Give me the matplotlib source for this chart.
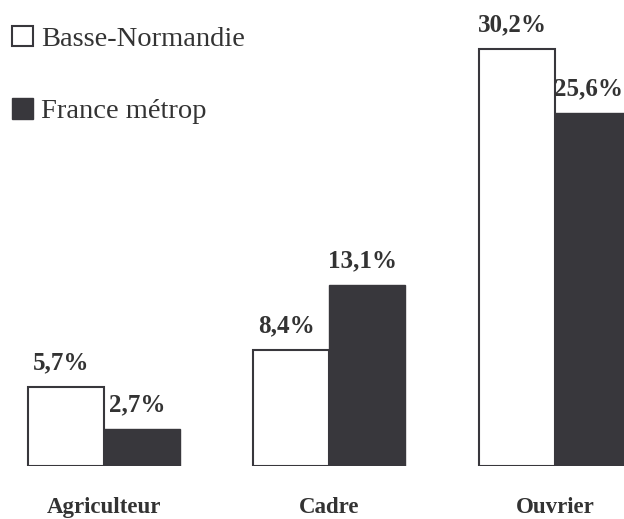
import matplotlib
matplotlib.use("Agg")
import matplotlib.pyplot as plt
import numpy as np

categories = ["Agriculteur", "Cadre", "Ouvrier"]
series_names = ["Basse-Normandie", "France métrop"]
basse_normandie = [5.7, 8.4, 30.2]
france_metrop = [2.7, 13.1, 25.6]
value_labels_bn = ["5,7%", "8,4%", "30,2%"]
value_labels_fr = ["2,7%", "13,1%", "25,6%"]

plt.rcParams['font.family'] = ['Liberation Serif', 'DejaVu Serif']
text_color = "#333333"
dark = "#38373c"

fig = plt.figure(figsize=(6.24, 5.19), dpi=100)
ax = fig.add_axes([0, 53/519, 1, 466/519])

x = np.arange(len(categories))
w = 0.337
b1 = ax.bar(x - w/2, basse_normandie, w, color="white", edgecolor=dark, linewidth=1.5,
            label=series_names[0])
b2 = ax.bar(x + w/2, france_metrop, w, color=dark, edgecolor=dark, linewidth=1.0,
            label=series_names[1])

for rects, labs in ((b1, value_labels_bn), (b2, value_labels_fr)):
    for r, lab in zip(rects, labs):
        ax.annotate(lab, (r.get_x() + r.get_width()/2, r.get_height()),
                    xytext=(-3.5, 17.5), textcoords="offset points",
                    ha="center", va="center", fontsize=18, fontweight="bold",
                    color=text_color)

ax.set_xlim(-0.461, 2.306)
ax.set_ylim(0, 33.77)
ax.set_xticks(x)
ax.set_xticklabels(categories, fontsize=16.5, fontweight="bold", color=text_color)
ax.tick_params(axis="x", length=0, pad=22.5)
ax.set_yticks([])
for s in ax.spines.values():
    s.set_visible(False)

leg = ax.legend(loc="upper left", bbox_to_anchor=(0.0, 0.973), bbox_transform=fig.transFigure,
                frameon=False, fontsize=20.5, handlelength=0.73, handleheight=0.73,
                handletextpad=0.3, labelspacing=1.62, borderaxespad=0.0, borderpad=0.42)
for t in leg.get_texts():
    t.set_color(text_color)

fig.savefig("out.png", dpi=100)
